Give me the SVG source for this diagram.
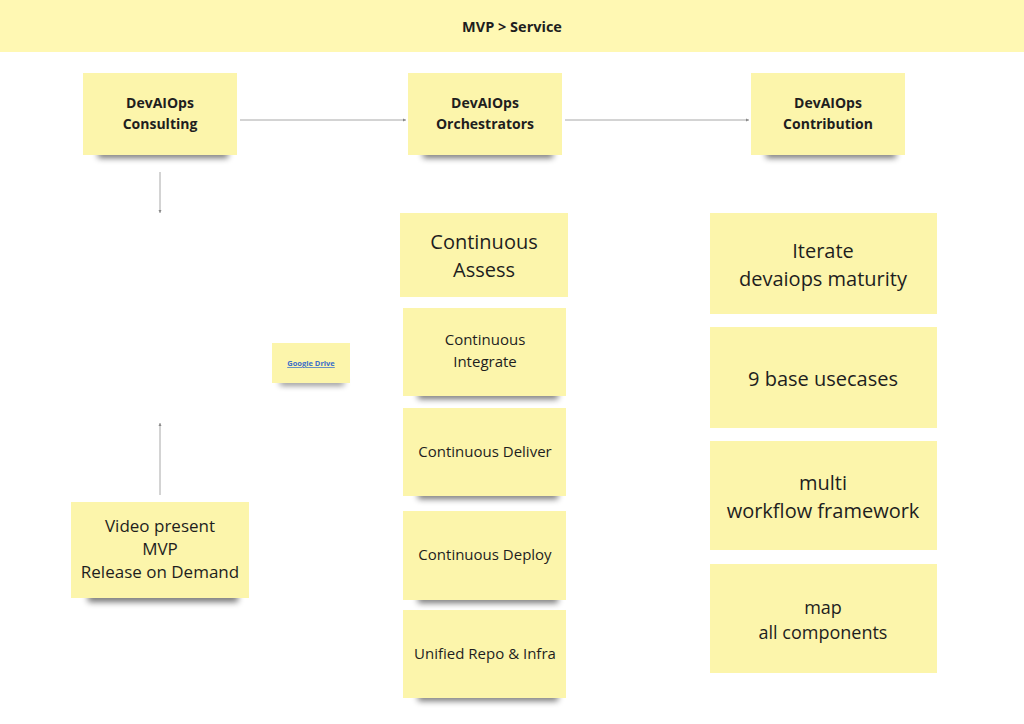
<svg xmlns="http://www.w3.org/2000/svg" width="1024" height="724" viewBox="0 0 1024 724">
<style>
.note{fill:#fcf5ab}
.shadow{fill:#000;opacity:0.55}
.t{font-family:"Open Sans","Noto Sans","Liberation Sans",sans-serif;fill:#1e1e1e;text-anchor:middle}
.b{font-weight:bold;font-size:14px}
.conn{stroke:#a8a8a8;stroke-width:1;fill:none}
</style>
<defs>
<filter id="blur" x="-20%" y="-200%" width="140%" height="500%"><feGaussianBlur stdDeviation="3"/></filter>
<marker id="ah" markerWidth="4" markerHeight="4" refX="3" refY="2" orient="auto" markerUnits="userSpaceOnUse"><path d="M0,0.5 L3,2 L0,3.5 z" fill="#888"/></marker>
</defs>
<rect x="0" y="0" width="1024" height="52" fill="#fff8b3"/>
<text class="t" x="512" y="32" font-size="14.5" font-weight="bold">MVP &gt; Service</text>

<g id="connectors">
<line class="conn" x1="240" y1="120" x2="406" y2="120" marker-end="url(#ah)"/>
<line class="conn" x1="565" y1="120" x2="749" y2="120" marker-end="url(#ah)"/>
<line class="conn" x1="160" y1="172" x2="160" y2="213" marker-end="url(#ah)"/>
<line class="conn" x1="160" y1="495" x2="160" y2="423" marker-end="url(#ah)"/>
</g>

<g id="consulting">
<rect class="shadow" x="98" y="150" width="130" height="8" filter="url(#blur)"/>
<rect class="note" x="83" y="73" width="154" height="82"/>
<text class="t b" x="160" y="108">DevAIOps</text>
<text class="t b" x="160" y="129">Consulting</text>
</g>
<g id="orchestrators">
<rect class="shadow" x="423" y="150" width="130" height="8" filter="url(#blur)"/>
<rect class="note" x="408" y="73" width="154" height="82"/>
<text class="t b" x="485" y="108">DevAIOps</text>
<text class="t b" x="485" y="129">Orchestrators</text>
</g>
<g id="contribution">
<rect class="shadow" x="766" y="150" width="130" height="8" filter="url(#blur)"/>
<rect class="note" x="751" y="73" width="154" height="82"/>
<text class="t b" x="828" y="108">DevAIOps</text>
<text class="t b" x="828" y="129">Contribution</text>
</g>

<g id="google-drive">
<rect class="shadow" x="280" y="380" width="64" height="5" filter="url(#blur)" opacity="0.35"/>
<rect class="note" x="272" y="343" width="78" height="40"/>
<text class="t" x="311" y="366" font-size="7.5" font-weight="bold" style="fill:#3b6fc9" text-decoration="underline">Google Drive</text>
</g>

<g id="video">
<rect class="shadow" x="88" y="593" width="150" height="9" filter="url(#blur)"/>
<rect class="note" x="71" y="502" width="178" height="96"/>
<text class="t" x="160" y="532" font-size="17">Video present</text>
<text class="t" x="160" y="555" font-size="17">MVP</text>
<text class="t" x="160" y="578" font-size="17">Release on Demand</text>
</g>

<g id="assess">
<rect class="note" x="400" y="213" width="168" height="84"/>
<text class="t" x="484" y="249" font-size="20">Continuous</text>
<text class="t" x="484" y="277" font-size="20">Assess</text>
</g>
<g id="integrate">
<rect class="shadow" x="418" y="391" width="140" height="8" filter="url(#blur)"/>
<rect class="note" x="403" y="308" width="163" height="88"/>
<text class="t" x="485" y="345" font-size="15">Continuous</text>
<text class="t" x="485" y="367" font-size="15">Integrate</text>
</g>
<g id="deliver">
<rect class="shadow" x="418" y="491" width="140" height="8" filter="url(#blur)"/>
<rect class="note" x="403" y="408" width="163" height="88"/>
<text class="t" x="485" y="457" font-size="15">Continuous Deliver</text>
</g>
<g id="deploy">
<rect class="shadow" x="418" y="595" width="140" height="8" filter="url(#blur)"/>
<rect class="note" x="403" y="511" width="163" height="89"/>
<text class="t" x="485" y="560" font-size="15">Continuous Deploy</text>
</g>
<g id="unified">
<rect class="shadow" x="418" y="693" width="140" height="8" filter="url(#blur)"/>
<rect class="note" x="403" y="610" width="163" height="88"/>
<text class="t" x="485" y="659" font-size="15">Unified Repo &amp; Infra</text>
</g>

<g id="iterate">
<rect class="note" x="710" y="213" width="227" height="101"/>
<text class="t" x="823" y="258" font-size="20">Iterate</text>
<text class="t" x="823" y="286" font-size="20">devaiops maturity</text>
</g>
<g id="usecases">
<rect class="note" x="710" y="327" width="227" height="101"/>
<text class="t" x="823" y="386" font-size="20">9 base usecases</text>
</g>
<g id="workflow">
<rect class="note" x="710" y="441" width="227" height="109"/>
<text class="t" x="823" y="490" font-size="20">multi</text>
<text class="t" x="823" y="518" font-size="20">workflow framework</text>
</g>
<g id="components">
<rect class="note" x="710" y="564" width="227" height="109"/>
<text class="t" x="823" y="614" font-size="18">map</text>
<text class="t" x="823" y="639" font-size="18">all components</text>
</g>
</svg>
